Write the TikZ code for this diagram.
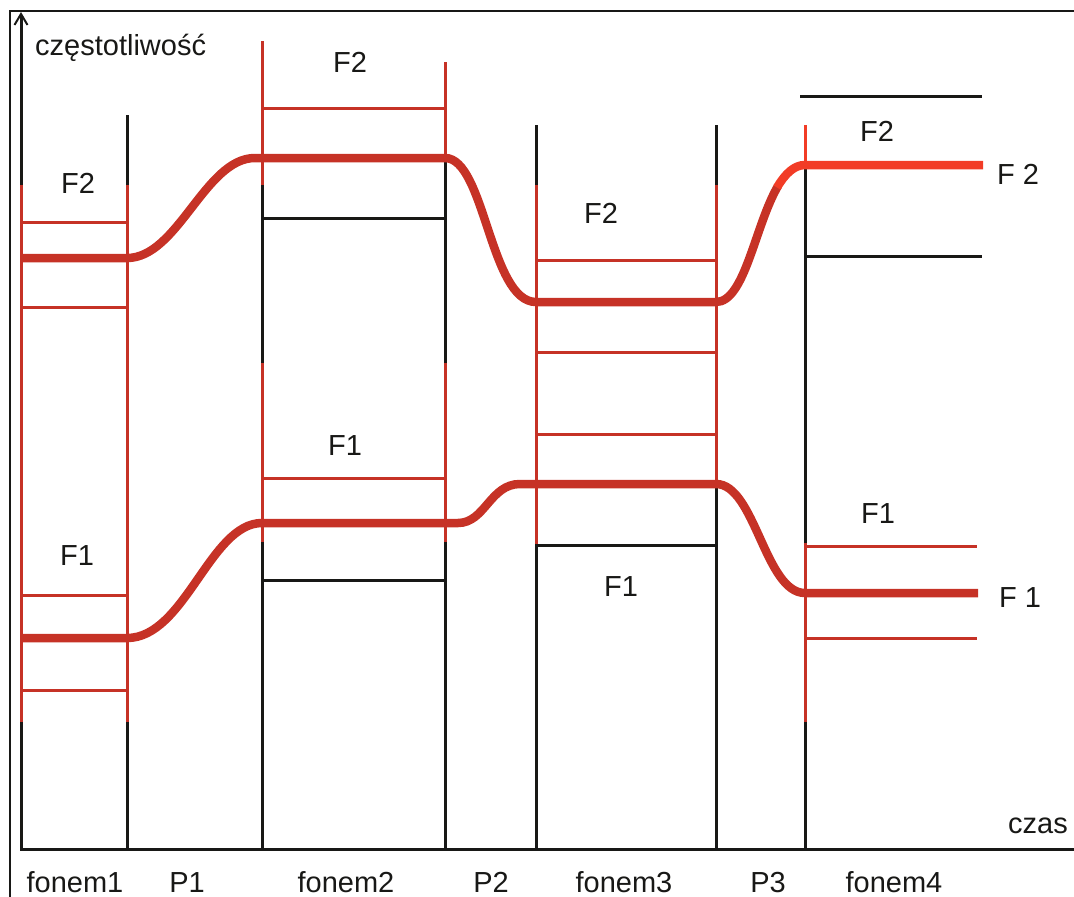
\documentclass[tikz,border=0pt]{standalone}
\usepackage{fontspec}
\setmainfont{Liberation Sans}
\usetikzlibrary{arrows.meta}

\definecolor{formred}{RGB}{198,50,38}
\definecolor{brightred}{RGB}{242,60,38}
\definecolor{ink}{RGB}{24,24,22}

\tikzset{
  blk/.style={draw=ink,line width=3pt},
  redln/.style={draw=formred,line width=3pt},
  formant/.style={draw=formred,line width=8.5pt},
}

\begin{document}
\begin{tikzpicture}[x=1pt,y=-1pt]
      \useasboundingbox (0,0) rectangle (1074,897);

      % frame and axes
      \draw[ink,line width=1.5pt] (10,897) -- (10,11) -- (1074,11);
      \draw[blk,-{Straight Barb[length=11pt,width=13pt,line width=2pt]}] (21,849) -- (21,12);
      \draw[blk] (20,849) -- (1074,849);

      % boundaries of the segments
      \draw[redln] (21,185) -- (21,722);
      \draw[blk] (127,115) -- (127,185);
      \draw[redln] (127,185) -- (127,722);
      \draw[blk] (127,722) -- (127,849);

      \draw[redln] (262,41) -- (262,185);
      \draw[blk] (262,185) -- (262,363);
      \draw[redln] (262,363) -- (262,542);
      \draw[blk] (262,542) -- (262,849);

      \draw[redln] (445,62) -- (445,162);
      \draw[blk] (445,162) -- (445,363);
      \draw[redln] (445,363) -- (445,542);
      \draw[blk] (445,542) -- (445,849);

      \draw[blk] (536,125) -- (536,185);
      \draw[redln] (536,185) -- (536,544);
      \draw[blk] (536,544) -- (536,849);

      \draw[blk] (716,125) -- (716,185);
      \draw[redln] (716,185) -- (716,488);
      \draw[blk] (716,488) -- (716,849);

      \draw[redln,draw=brightred] (805,125) -- (805,163);
      \draw[blk] (805,163) -- (805,543);
      \draw[redln] (805,543) -- (805,722);
      \draw[blk] (805,722) -- (805,849);

      % formant bands
      \draw[redln] (21,222) -- (127,222);
      \draw[redln] (21,307) -- (127,307);
      \draw[redln] (21,595) -- (127,595);
      \draw[redln] (21,690) -- (127,690);

      \draw[redln] (262,108) -- (445,108);
      \draw[blk] (262,218) -- (445,218);
      \draw[redln] (262,478) -- (445,478);
      \draw[blk] (262,580) -- (445,580);

      \draw[redln] (536,260) -- (716,260);
      \draw[redln] (536,352) -- (716,352);
      \draw[redln] (536,434) -- (716,434);
      \draw[blk] (536,545) -- (716,545);

      \draw[blk] (800,96) -- (982,96);
      \draw[blk] (805,256) -- (982,256);
      \draw[redln] (805,546) -- (977,546);
      \draw[redln] (805,638) -- (977,638);

      % formant tracks
      \draw[formant] (21,258) -- (127,258)
        .. controls (178,258) and (205,158) .. (255,158) -- (445,158)
        .. controls (485,158) and (490,302) .. (536,302) -- (716,302)
        .. controls (745,302) and (755,225) .. (778,186);
      \draw[formant,draw=brightred] (777,187.5)
        .. controls (785,174) and (794,165) .. (805,165) -- (983,165);
      \draw[formant] (21,638) -- (127,638)
        .. controls (185,638) and (210,523) .. (262,523) -- (458,523)
        .. controls (485,523) and (490,484) .. (520,484) -- (716,484)
        .. controls (755,484) and (765,593) .. (805,593) -- (978,593);

      \begin{scope}[every node/.style={inner sep=0pt,text=ink,font=\fontsize{29}{34}\selectfont}]
        \node[anchor=base west] (freq) at (35,55) {częstotliwość};
        \node[anchor=base east] (time) at (1068,833) {czas};

        \node[anchor=base] (f2a) at (78,193) {F2};
        \node[anchor=base] (f1a) at (77,565) {F1};
        \node[anchor=base] (f2b) at (350,72) {F2};
        \node[anchor=base] (f1b) at (345,455) {F1};
        \node[anchor=base] (f2c) at (601,223) {F2};
        \node[anchor=base] (f1c) at (621,596) {F1};
        \node[anchor=base] (f2d) at (877,141) {F2};
        \node[anchor=base] (f1d) at (878,523) {F1};
        \node[anchor=base west] (trackf2) at (997,184) {F 2};
        \node[anchor=base west] (trackf1) at (999,607) {F 1};

        \node[anchor=base] (ph1) at (75,892) {fonem1};
        \node[anchor=base] (p1)  at (187,892) {P1};
        \node[anchor=base] (ph2) at (346,892) {fonem2};
        \node[anchor=base] (p2)  at (491,892) {P2};
        \node[anchor=base] (ph3) at (624,892) {fonem3};
        \node[anchor=base] (p3)  at (768,892) {P3};
        \node[anchor=base] (ph4) at (894,892) {fonem4};
      \end{scope}

    \end{tikzpicture}
\end{document}
